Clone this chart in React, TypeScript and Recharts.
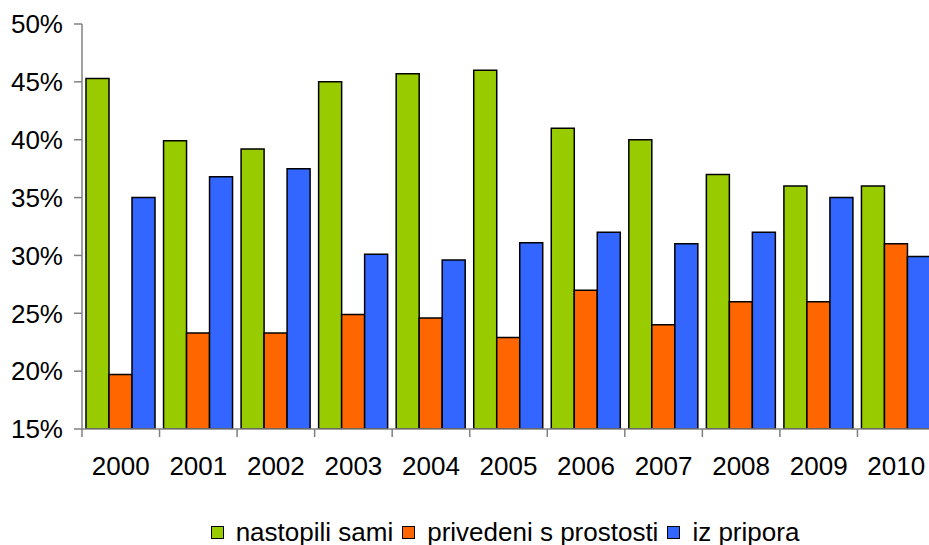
import { Bar, BarChart, Legend, XAxis, YAxis } from "recharts";

const years = ["2000", "2001", "2002", "2003", "2004", "2005", "2006", "2007", "2008", "2009", "2010"];
const nastopiliSami = [45.3, 39.9, 39.2, 45.0, 45.7, 46.0, 41.0, 40.0, 37.0, 36.0, 36.0];
const privedeniSProstosti = [19.7, 23.3, 23.3, 24.9, 24.6, 22.9, 27.0, 24.0, 26.0, 26.0, 31.0];
const izPripora = [35.0, 36.8, 37.5, 30.1, 29.6, 31.1, 32.0, 31.0, 32.0, 35.0, 29.9];
const yTicks = [15, 20, 25, 30, 35, 40, 45, 50];

const series = [
  { key: "nastopili", name: "nastopili sami", color: "#99cc00" },
  { key: "privedeni", name: "privedeni s prostosti", color: "#ff6600" },
  { key: "pripor", name: "iz pripora", color: "#3366ff" }
];

const data = years.map((year, i) => ({
  year,
  nastopili: nastopiliSami[i],
  privedeni: privedeniSProstosti[i],
  pripor: izPripora[i]
}));

const font = "'Liberation Sans', Arial, sans-serif";

// label centred under the group, tick mark on the left edge of the group
function YearTick(props: any) {
  const { x, y, payload } = props;
  const half = payload?.offset ?? 0;
  return (
    <g>
      <line x1={x - half} x2={x - half} y1={y - 28} y2={y - 20} stroke="#808080" strokeWidth={1.5} />
      <text x={x} y={y} dy="0.71em" textAnchor="middle" fontSize={26} fontFamily={font} fill="#000">
        {payload.value}
      </text>
    </g>
  );
}

function LegendBox() {
  return (
    <div
      style={{
        display: "flex",
        justifyContent: "center",
        alignItems: "center",
        height: 56,
        paddingTop: 30,
        paddingLeft: 90,
        boxSizing: "border-box",
        fontFamily: font,
        fontSize: 26,
        color: "#000"
      }}
    >
      {series.map((s) => (
        <span key={s.key} style={{ display: "inline-flex", alignItems: "center", marginRight: 9 }}>
          <span
            style={{
              display: "inline-block",
              width: 11,
              height: 11,
              background: s.color,
              border: "1.5px solid #000",
              marginRight: 12
            }}
          />
          {s.name}
        </span>
      ))}
    </div>
  );
}

export default function App() {
  return (
    <div style={{ width: 929, height: 545, overflow: "hidden", background: "#fff" }}>
      <style>{`body{margin:0}`}</style>
      <BarChart
        width={935}
        height={545}
        data={data}
        margin={{ top: 24, right: 0, bottom: 0, left: 0 }}
        barCategoryGap={4}
        barGap={0}
      >
        <XAxis
          dataKey="year"
          height={60}
          stroke="#808080"
          strokeWidth={1.5}
          tickLine={false}
          tickSize={8}
          tickMargin={20}
          tick={<YearTick />}
          interval={0}
        />
        <YAxis
          width={82}
          domain={[15, 50]}
          ticks={yTicks}
          tickFormatter={(v) => `${v}%`}
          stroke="#808080"
          strokeWidth={1.5}
          tickSize={8}
          tickMargin={11}
          tick={{ fill: "#000", fontSize: 26, fontFamily: font }}
          allowDataOverflow
        />
        <Legend
          verticalAlign="bottom"
          wrapperStyle={{ left: 0, width: 929 }}
          content={() => <LegendBox />}
        />
        {series.map((s) => (
          <Bar
            key={s.key}
            dataKey={s.key}
            name={s.name}
            fill={s.color}
            stroke="#000"
            strokeWidth={1.5}
            isAnimationActive={false}
          />
        ))}
      </BarChart>
    </div>
  );
}
